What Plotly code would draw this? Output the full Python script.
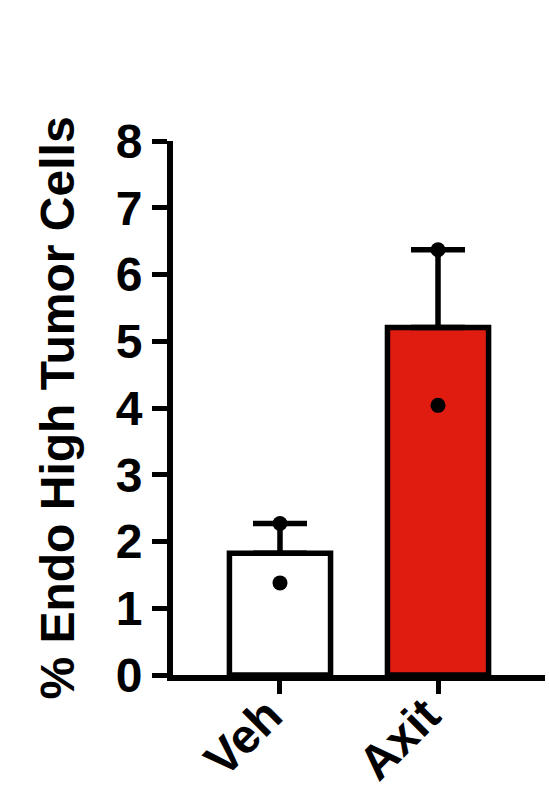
import plotly.graph_objects as go
import numpy as np

categories = ["Veh", "Axit"]
veh_points = [1.38, 2.27]
axit_points = [4.04, 6.37]
bar_colors = ["#FFFFFF", "#E01B10"]
y_ticks = [0, 1, 2, 3, 4, 5, 6, 7, 8]

groups = [veh_points, axit_points]
means = [float(np.mean(g)) for g in groups]
sems = [float(np.std(g, ddof=1) / np.sqrt(len(g))) for g in groups]

FONT = "Liberation Sans, Arial, Helvetica, sans-serif"

fig = go.Figure()
fig.add_trace(go.Bar(
    x=categories, y=means,
    width=0.64,
    marker=dict(color=bar_colors, line=dict(color="black", width=5.5)),
    error_y=dict(type="data", symmetric=False, array=sems,
                 arrayminus=[0, 0], color="black", thickness=5.5, width=27),
    showlegend=False,
))
for cat, pts in zip(categories, groups):
    fig.add_trace(go.Scatter(
        x=[cat] * len(pts), y=pts, mode="markers",
        marker=dict(color="black", size=15),
        showlegend=False, cliponaxis=False,
    ))

fig.update_layout(
    width=549, height=791,
    margin=dict(l=173, r=4, t=141, b=116),
    paper_bgcolor="white", plot_bgcolor="white",
    font=dict(family=FONT, color="black", size=48, weight="bold"),
)
fig.update_xaxes(
    range=[-0.677, 1.677], automargin=False,
    showline=True, linecolor="black", linewidth=6,
    ticks="outside", ticklen=13, tickwidth=5, tickcolor="black",
    tickangle=-45, ticklabelstandoff=-26, ticklabelshift=-12,
    tickfont=dict(family=FONT, size=48, weight="bold", color="black"),
    showgrid=False, zeroline=False,
)
fig.update_yaxes(
    range=[0, 8], automargin=False,
    tickvals=y_ticks, ticktext=[str(t) for t in y_ticks],
    showline=True, linecolor="black", linewidth=6,
    ticks="outside", ticklen=15, tickwidth=5, tickcolor="black",
    tickfont=dict(family=FONT, size=48, weight="bold", color="black"),
    showgrid=False, zeroline=False,
    title=dict(text="% Endo High Tumor Cells", standoff=28,
               font=dict(family=FONT, size=48, weight="bold", color="black")),
)

fig.write_html("out.html", config={"displayModeBar": False},
               post_script="document.body.style.margin='0';document.body.style.padding='0';")
